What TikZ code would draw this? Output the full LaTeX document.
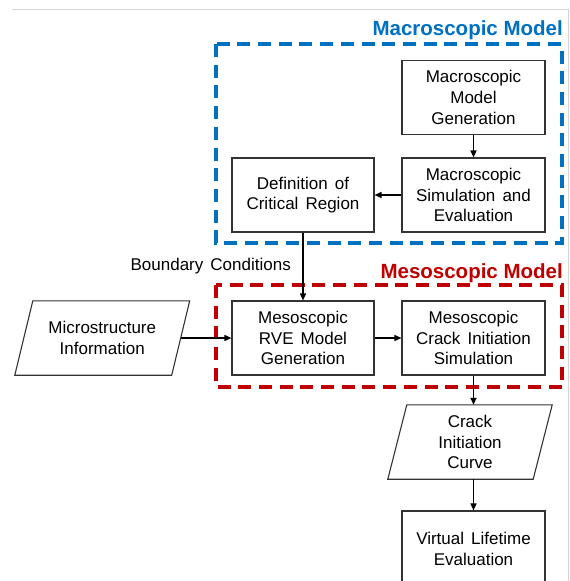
\documentclass[tikz,border=0pt]{standalone}
\usepackage{fontspec}
\setmainfont[WordSpace=1.5]{Liberation Sans}
\newfontfamily\titlefont{Liberation Sans}
\usetikzlibrary{arrows.meta}
\definecolor{macroblue}{HTML}{0070C0}
\definecolor{mesored}{HTML}{C00000}
\definecolor{boxline}{HTML}{333333}
\definecolor{framegray}{HTML}{D4D4D4}
\tikzset{
  procbox/.style={draw=boxline, line width=1.1pt, align=center, inner sep=0pt,
    minimum width=143pt, minimum height=74pt, font=\fontsize{17}{20.7}\selectfont},
  iobox/.style={align=center, inner sep=0pt, minimum height=74pt,
    font=\fontsize{17}{20.7}\selectfont},
  ioline/.style={draw=boxline, line width=1.1pt},
  flow/.style={draw=black, line width=1.4pt, -{Triangle[length=7pt,width=6pt]}},
  groupbox/.style={line width=3.3pt, dash pattern=on 13pt off 7.7pt},
  grouptitle/.style={font=\titlefont\fontsize{20.5}{24}\selectfont\bfseries, inner sep=0pt, anchor=base east},
  frameline/.style={draw=framegray, line width=1pt}
}
\begin{document}
\begin{tikzpicture}[x=1pt,y=-1pt]
\useasboundingbox (0,0) rectangle (570,581);
% screenshot frame
\coordinate (fA) at (12,9);
\coordinate (fB) at (568,9);
\coordinate (fC) at (568,581);
\draw[frameline] (fA) -- (fB) -- (fC);

% group boxes
\draw[groupbox, macroblue] (216,44) rectangle (562,243);
\node[grouptitle, text=macroblue] (macrotitle) at (563,35) {Macroscopic Model};
\draw[groupbox, mesored] (216,285) rectangle (562,387);
\node[grouptitle, text=mesored] (mesotitle) at (563,278) {Mesoscopic Model};

% process boxes
\node[procbox] (mgen) at (473.5,97.5) {Macroscopic\\Model\\Generation};
\node[procbox] (msim) at (473.5,195) {Macroscopic\\Simulation and\\Evaluation};
\node[procbox, minimum width=142pt] (crit) at (303,195) {Definition of\\Critical Region};
\node[procbox, minimum width=142pt] (rve) at (303,338) {Mesoscopic\\RVE Model\\Generation};
\node[procbox] (crack) at (473.5,338) {Mesoscopic\\Crack Initiation\\Simulation};
\node[procbox, minimum height=76pt] (life) at (473.5,549) {Virtual Lifetime\\Evaluation};

% input/output parallelograms
\node[iobox, minimum width=156.5pt] (micro) at (102.25,338) {Microstructure\\Information};
\draw[ioline] ([xshift=9pt]micro.north west) -- ([xshift=9pt]micro.north east)
  -- ([xshift=-9pt]micro.south east) -- ([xshift=-9pt]micro.south west) -- cycle;
\node[iobox, minimum width=145pt] (curve) at (470,442) {Crack\\Initiation\\Curve};
\draw[ioline] ([xshift=9.5pt]curve.north west) -- ([xshift=9.5pt]curve.north east)
  -- ([xshift=-9.5pt]curve.south east) -- ([xshift=-9.5pt]curve.south west) -- cycle;

% connectors
\draw[flow] (mgen) -- (msim);
\draw[flow] (msim) -- (crit);
\draw[flow] (crit) -- (rve);
\node[anchor=east, inner sep=0pt, font=\fontsize{17}{20.7}\selectfont] (bc) at (291,266) {Boundary Conditions};
\draw[flow] (micro.east) -- (rve.west);
\draw[flow] (rve) -- (crack);
\draw[flow] (crack.south) -- (crack.south |- curve.north);
\draw[flow] (life.north |- curve.south) -- (life.north);
\end{tikzpicture}
\end{document}
